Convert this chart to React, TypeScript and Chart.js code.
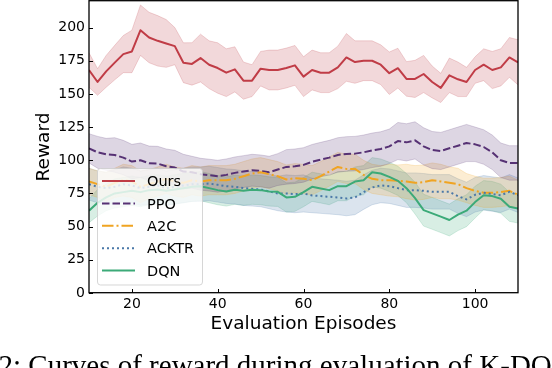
import React, { useEffect, useRef } from "react";
import { Chart, registerables } from "chart.js";

Chart.register(...registerables);

const FONT = '"DejaVu Sans", sans-serif';

const episodes = [
  10, 12, 14, 16, 18, 20, 22, 24, 26, 28, 30, 32, 34, 36, 38, 40, 42, 44, 46, 48,
  50, 52, 54, 56, 58, 60, 62, 64, 66, 68, 70, 72, 74, 76, 78, 80, 82, 84, 86, 88,
  90, 92, 94, 96, 98, 100, 102, 104, 106, 108, 110,
];

const xTickValues = [20, 40, 60, 80, 100];
const yTickValues = [0, 25, 50, 75, 100, 125, 150, 175, 200];

const oursMean = [
  168, 159, 167, 173.6, 180, 182, 198, 192.5, 190, 188, 186, 173.5, 172.6, 177, 172, 169.5, 166,
  168.5, 160, 160, 169, 168, 168, 169.5, 171.5, 163, 168, 166, 166, 170, 177.5, 174, 175, 175, 172,
  165.6, 169.4, 161.3, 161.3, 165, 159, 154.5, 164, 161, 159, 168, 172, 168, 170, 177.5, 173.8,
];
const oursSpread = [
  13, 10, 12, 13, 14, 16, 19, 19, 19, 18, 14, 15, 16, 18, 18, 19, 18, 17, 14, 12, 13, 15, 15, 15,
  15, 15, 15, 15, 15, 16, 18, 16, 15, 15, 15, 16, 15, 13, 14, 14, 12, 11, 13, 13, 11, 10, 12, 14,
  14, 15, 17,
];

const ppoMean = [
  109, 106, 104.5, 104, 102, 99, 100, 97.7, 97.5, 95.5, 94.5, 91.5, 91, 89.5, 88.8, 88, 89, 90.5,
  91.5, 92.5, 92, 91, 93, 95, 95.5, 96.5, 98.9, 100.5, 102, 104, 104.8, 105, 106, 107.5, 108.5,
  110.5, 114.5, 113.5, 115, 110.5, 107.7, 107, 109, 111, 113, 112, 110, 106, 100, 98, 98,
];
const ppoSpread = [
  11, 12, 12, 13, 13, 13, 13, 13, 13, 13, 13, 13, 12, 12, 12, 12, 12, 12, 12, 12, 12, 12, 12, 13,
  13, 13, 13, 13, 13, 13, 13, 13, 13, 13, 13, 13, 14, 14, 14, 14, 14, 14, 14, 14, 14, 13, 13, 13,
  13, 13, 13,
];

const a2cMean = [
  84, 82, 80, 83, 85, 84, 80, 82, 84, 86, 84, 83, 85, 84, 85, 85, 85, 86, 88, 90, 91, 89.5, 88,
  85.5, 86.5, 86, 85, 88, 91.5, 95, 93.5, 93.5, 89, 86, 85, 85, 84.5, 84, 83, 83.5, 85, 84, 83, 82,
  79, 77, 75.5, 75.5, 76, 77, 74,
];
const a2cSpread = [
  10, 10, 11, 11, 12, 12, 12, 11, 11, 11, 11, 11, 11, 11, 11, 11, 11, 11, 11, 11, 11, 11, 11, 11,
  11, 11, 11, 11, 11, 11, 11, 11, 11, 11, 11, 12, 12, 13, 13, 13, 13, 13, 12, 12, 11, 11, 11, 11,
  11, 11, 11,
];

const acktrMean = [
  82, 80, 79, 80, 82, 81, 79, 80, 81, 79, 80, 81, 82, 82, 82.5, 81.5, 80.5, 80, 79, 78.5, 78, 76.5,
  75, 75, 74.5, 75, 73.5, 73, 72.5, 72, 71.2, 72, 76, 79.5, 81, 80.5, 79, 77.5, 77.5, 77, 76.2,
  76.2, 76.2, 73, 70.5, 74, 75.5, 74.5, 73.7, 76.2, 73.7,
];
const acktrSpread = [
  12, 12, 12, 13, 13, 13, 13, 13, 13, 13, 13, 13, 13, 13, 13, 13, 13, 13, 13, 13, 13, 13, 13, 14,
  14, 14, 13, 13, 13, 13, 13, 13, 13, 13, 13, 13, 13, 13, 13, 13, 13, 13, 13, 13, 13, 13, 13, 13,
  13, 13, 13,
];

const dqnMean = [
  62, 68, 72, 75, 76, 77, 76, 77.5, 78, 77, 78, 79, 80, 80.5, 79, 77.5, 76.5, 77.8, 77, 77.8, 77.5,
  76.5, 76.2, 72, 72.5, 76, 80, 78.8, 77.5, 80.5, 80.5, 84, 85, 91, 90, 87.5, 84.5, 79, 71.5, 62.4,
  60, 57.5, 55, 59, 62, 68.5, 73.7, 73, 71, 65, 63.7,
];
const dqnSpread = [
  9, 10, 10, 11, 11, 11, 11, 11, 11, 11, 11, 11, 11, 11, 11, 11, 11, 11, 11, 11, 11, 11, 11, 11, 11,
  11, 11, 11, 11, 11, 11, 11, 11, 11, 11, 11, 11, 11, 12, 12, 12, 12, 12, 12, 12, 12, 11, 11, 11,
  11, 11,
];

const seriesLabels = ["Ours", "PPO", "A2C", "ACKTR", "DQN"];
const seriesColors = ["#c03c46", "#563174", "#f0a422", "#4a78a8", "#3caa78"];
const seriesBands = [
  "rgba(192,60,70,0.2)",
  "rgba(86,49,116,0.2)",
  "rgba(240,164,34,0.2)",
  "rgba(74,120,168,0.2)",
  "rgba(60,170,120,0.2)",
];
const seriesDashes: number[][] = [[], [7.5, 3], [11.5, 3, 2, 3], [2, 3], []];
const seriesMeans = [oursMean, ppoMean, a2cMean, acktrMean, dqnMean];
const seriesSpreads = [oursSpread, ppoSpread, a2cSpread, acktrSpread, dqnSpread];

const captionText = "2: Curves of reward during evaluation of K-DQN";

const legendPlugin = {
  id: "boxLegend",
  afterDatasetsDraw(chart: any) {
    const { ctx, chartArea } = chart;
    const bx = chartArea.left + 8.5;
    const by = chartArea.bottom - 124.5;
    const bw = 105;
    const bh = 116.5;
    ctx.save();
    ctx.beginPath();
    ctx.roundRect(bx, by, bw, bh, 3);
    ctx.fillStyle = "rgba(255,255,255,0.8)";
    ctx.fill();
    ctx.strokeStyle = "rgba(204,204,204,0.8)";
    ctx.lineWidth = 1;
    ctx.stroke();
    seriesLabels.forEach((label, i) => {
      const y = by + 12.5 + i * 22.4;
      ctx.beginPath();
      ctx.setLineDash(seriesDashes[i]);
      ctx.strokeStyle = seriesColors[i];
      ctx.lineWidth = 2;
      ctx.moveTo(bx + 4.5, y);
      ctx.lineTo(bx + 37.5, y);
      ctx.stroke();
      ctx.setLineDash([]);
      ctx.fillStyle = "#000";
      ctx.font = `14.5px ${FONT}`;
      ctx.textBaseline = "alphabetic";
      ctx.textAlign = "left";
      ctx.fillText(label, bx + 49.5, y + 5.2);
    });
    ctx.restore();
  },
};

const framePlugin = {
  id: "frameTicks",
  afterDraw(chart: any) {
    const { ctx, chartArea: a, scales } = chart;
    ctx.save();
    ctx.strokeStyle = "#000";
    ctx.lineWidth = 1;
    ctx.beginPath();
    for (const v of xTickValues) {
      const px = Math.round(scales.x.getPixelForValue(v)) + 0.5;
      ctx.moveTo(px, a.bottom);
      ctx.lineTo(px, a.bottom - 4);
    }
    for (const v of yTickValues) {
      const py = Math.round(scales.y.getPixelForValue(v)) + 0.5;
      ctx.moveTo(a.left, py);
      ctx.lineTo(a.left + 4, py);
    }
    ctx.stroke();
    ctx.lineWidth = 1.3;
    ctx.strokeRect(a.left, a.top - 0.3, a.right - a.left, a.bottom - a.top);
    ctx.restore();
  },
};

function buildDatasets() {
  const ds: any[] = [];
  seriesLabels.forEach((label, k) => {
    const mean = seriesMeans[k];
    const spread = seriesSpreads[k];
    ds.push({
      label: label + " upper",
      data: episodes.map((x, i) => ({ x, y: mean[i] + spread[i] })),
      borderColor: seriesBands[k],
      borderWidth: 1,
      backgroundColor: seriesBands[k],
      fill: "+1",
      pointRadius: 0,
      order: 10,
    });
    ds.push({
      label: label + " lower",
      data: episodes.map((x, i) => ({ x, y: mean[i] - spread[i] })),
      borderColor: seriesBands[k],
      borderWidth: 1,
      backgroundColor: seriesBands[k],
      fill: false,
      pointRadius: 0,
      order: 10,
    });
    ds.push({
      label,
      data: episodes.map((x, i) => ({ x, y: mean[i] })),
      borderColor: seriesColors[k],
      borderWidth: 2,
      borderDash: seriesDashes[k],
      borderJoinStyle: "round",
      fill: false,
      pointRadius: 0,
      order: 4 - k,
    });
  });
  return ds;
}

export default function App() {
  const ref = useRef<HTMLCanvasElement | null>(null);

  useEffect(() => {
    document.body.style.margin = "0";
    if (!ref.current) return;
    const chart = new Chart(ref.current, {
      type: "line",
      data: { datasets: buildDatasets() },
      options: {
        animation: false,
        responsive: false,
        devicePixelRatio: 1,
        layout: { padding: { top: 1, right: 34, bottom: 0, left: 0 } },
        elements: { line: { tension: 0 }, point: { radius: 0 } },
        plugins: {
          legend: { display: false },
          tooltip: { enabled: false },
        },
        scales: {
          x: {
            type: "linear",
            min: 10,
            max: 110,
            grid: { display: false, drawTicks: false },
            border: { display: false },
            ticks: {
              padding: 3,
              color: "#000",
              maxRotation: 0,
              autoSkip: false,
              font: { family: FONT, size: 14 },
            },
            afterBuildTicks: (s: any) => {
              s.ticks = xTickValues.map((v) => ({ value: v }));
            },
            afterFit: (s: any) => {
              s.height = 75;
              s.paddingLeft = 0;
              s.paddingRight = 0;
            },
            title: {
              display: true,
              text: "Evaluation Episodes",
              color: "#000",
              font: { family: FONT, size: 18.5 },
              padding: { top: 0, bottom: 32.7 },
            },
          },
          y: {
            type: "linear",
            min: 0,
            max: 220,
            grid: { display: false, drawTicks: false },
            border: { display: false },
            ticks: {
              padding: 4,
              color: "#000",
              autoSkip: false,
              font: { family: FONT, size: 14 },
            },
            afterBuildTicks: (s: any) => {
              s.ticks = yTickValues.map((v) => ({ value: v }));
            },
            afterFit: (s: any) => {
              s.width = 89;
              s.paddingTop = 0;
              s.paddingBottom = 0;
            },
            title: {
              display: true,
              text: "Reward",
              color: "#000",
              font: { family: FONT, size: 18.5 },
              padding: { top: 33.4, bottom: 0 },
            },
          },
        },
      },
      plugins: [legendPlugin, framePlugin],
    } as any);
    return () => chart.destroy();
  }, []);

  return (
    <div
      style={{
        position: "fixed",
        left: 0,
        top: 0,
        width: 552,
        height: 368,
        overflow: "hidden",
        background: "#fff",
      }}
    >
      <canvas ref={ref} width={552} height={368} style={{ display: "block", width: 552, height: 368 }} />
      <div
        style={{
          position: "absolute",
          left: -1.5,
          top: 350.6,
          fontFamily: '"Liberation Serif", serif',
          fontSize: 29,
          lineHeight: "29px",
          whiteSpace: "nowrap",
          color: "#000",
        }}
      >
        {captionText}
      </div>
    </div>
  );
}
